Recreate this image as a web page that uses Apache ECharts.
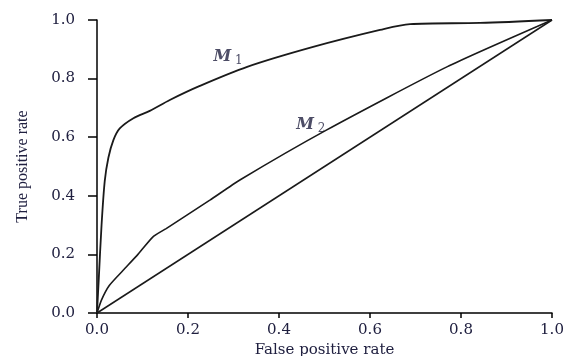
<!DOCTYPE html>
<html>
<head>
<meta charset="utf-8">
<script src="https://cdn.jsdelivr.net/npm/echarts@6/dist/echarts.min.js"></script>
<style>
  html, body { margin: 0; padding: 0; background: #fff; }
  #chart { width: 569px; height: 356px; }
</style>
</head>
<body>
<div id="chart"></div>
<script>
// ROC 曲线数据
const tickValues = [0, 0.2, 0.4, 0.6, 0.8, 1.0];
const m1Points = [
  [0, 0], [0.004, 0.12], [0.01, 0.30], [0.017, 0.45], [0.025, 0.53],
  [0.036, 0.59], [0.05, 0.63], [0.08, 0.665], [0.116, 0.69], [0.16, 0.727],
  [0.226, 0.775], [0.33, 0.84], [0.475, 0.908], [0.622, 0.966],
  [0.688, 0.986], [0.842, 0.99], [1, 1]
];
const m2Points = [
  [0, 0], [0.01, 0.045], [0.027, 0.094], [0.057, 0.145], [0.09, 0.2],
  [0.123, 0.26], [0.152, 0.288], [0.248, 0.385], [0.314, 0.454],
  [0.505, 0.625], [0.769, 0.84], [1, 1]
];
const diagonalPoints = [[0, 0], [1, 1]];
const curveLabels = [
  { name: '1', value: [0.288, 0.874] },
  { name: '2', value: [0.47, 0.642] }
];

const serif = '"Liberation Serif", "DejaVu Serif", serif';
const wideSerif = '"DejaVu Serif", "Liberation Serif", serif';
const textColor = '#202040';
const lineColor = '#1a1a1a';

const chart = echarts.init(document.getElementById('chart'));

function valueAxis(name, isX) {
  return {
    type: 'value',
    min: 0,
    max: 1,
    interval: 0.2,
    name: name,
    nameLocation: 'middle',
    nameGap: isX ? 28 : 66,
    nameTextStyle: {
      fontFamily: isX ? wideSerif : serif,
      fontSize: isX ? 15 : 16,
      color: textColor
    },
    axisLine: { show: true, onZero: false, lineStyle: { color: '#000', width: 1.5 } },
    axisTick: { show: true, length: isX ? 5 : 9, lineStyle: { color: '#000', width: 1.5 } },
    axisLabel: {
      fontFamily: wideSerif,
      fontSize: 15,
      color: textColor,
      margin: isX ? 10 : 22,
      formatter: v => v.toFixed(1)
    },
    splitLine: { show: false }
  };
}

chart.setOption({
  animation: false,
  backgroundColor: '#fff',
  grid: {
    left: 97, right: 17, top: 20, bottom: 43,
    containLabel: false,
    outerBoundsMode: 'none'
  },
  xAxis: valueAxis('False positive rate', true),
  yAxis: valueAxis('True positive rate', false),
  series: [
    {
      name: 'M1',
      type: 'line',
      data: m1Points,
      smooth: 0.3,
      showSymbol: false,
      lineStyle: { color: lineColor, width: 1.8 }
    },
    {
      name: 'M2',
      type: 'line',
      data: m2Points,
      smooth: 0.2,
      showSymbol: false,
      lineStyle: { color: lineColor, width: 1.6 }
    },
    {
      name: 'diagonal',
      type: 'line',
      data: diagonalPoints,
      showSymbol: false,
      lineStyle: { color: lineColor, width: 1.5 }
    },
    {
      name: 'labels',
      type: 'scatter',
      symbolSize: 0,
      data: curveLabels,
      label: {
        show: true,
        position: 'inside',
        formatter: p => '{m|M}{s| ' + p.name + '}',
        rich: {
          m: { fontFamily: wideSerif, fontStyle: 'italic', fontWeight: 'bold', fontSize: 16, color: textColor },
          s: { fontFamily: wideSerif, fontSize: 12, color: textColor, padding: [8, 0, 0, 0] }
        }
      }
    }
  ]
});
</script>
</body>
</html>
